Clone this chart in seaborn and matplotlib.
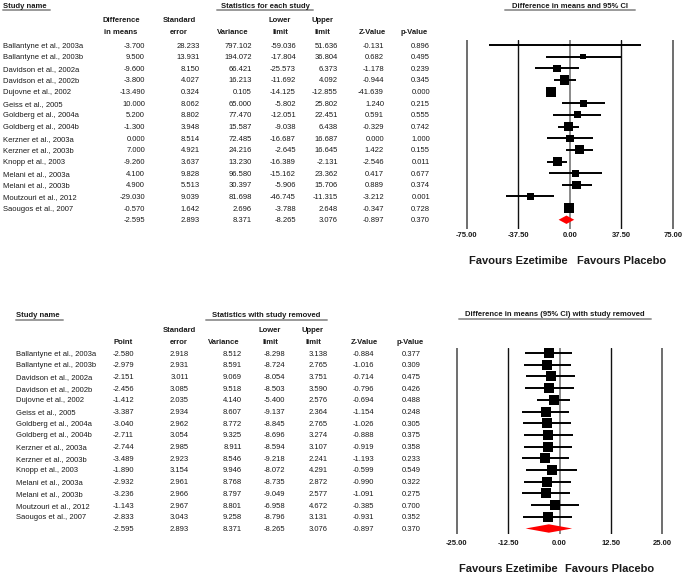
import numpy as np
import pandas as pd
import matplotlib
matplotlib.use("Agg")
import matplotlib.pyplot as plt
from matplotlib.lines import Line2D
import seaborn as sns

# ---------------- data ----------------
studies = ["Ballantyne et al., 2003a", "Ballantyne et al., 2003b", "Davidson et al., 2002a",
           "Davidson et al., 2002b", "Dujovne et al., 2002", "Geiss et al., 2005",
           "Goldberg et al., 2004a", "Goldberg et al., 2004b", "Kerzner et al., 2003a",
           "Kerzner et al., 2003b", "Knopp et al., 2003", "Melani et al., 2003a",
           "Melani et al., 2003b", "Moutzouri et al., 2012", "Saougos et al., 2007"]

diff = [-3.700, 9.500, -9.600, -3.800, -13.490, 10.000, 5.200, -1.300, 0.000, 7.000,
        -9.260, 4.100, 4.900, -29.030, -0.570]
se = [28.233, 13.931, 8.150, 4.027, 0.324, 8.062, 8.802, 3.948, 8.514, 4.921,
      3.637, 9.828, 5.513, 9.039, 1.642]
var = [797.102, 194.072, 66.421, 16.213, 0.105, 65.000, 77.470, 15.587, 72.485, 24.216,
       13.230, 96.580, 30.397, 81.698, 2.696]
lower = [-59.036, -17.804, -25.573, -11.692, -14.125, -5.802, -12.051, -9.038, -16.687, -2.645,
         -16.389, -15.162, -5.906, -46.745, -3.788]
upper = [51.636, 36.804, 6.373, 4.092, -12.855, 25.802, 22.451, 6.438, 16.687, 16.645,
         -2.131, 23.362, 15.706, -11.315, 2.648]
zval = [-0.131, 0.682, -1.178, -0.944, -41.639, 1.240, 0.591, -0.329, 0.000, 1.422,
        -2.546, 0.417, 0.889, -3.212, -0.347]
pval = [0.896, 0.495, 0.239, 0.345, 0.000, 0.215, 0.555, 0.742, 1.000, 0.155,
        0.011, 0.677, 0.374, 0.001, 0.728]
# pooled: point, se, variance, lower, upper, z, p
summary = [-2.595, 2.893, 8.371, -8.265, 3.076, -0.897, 0.370]

point_r = [-2.580, -2.979, -2.151, -2.456, -1.412, -3.387, -3.040, -2.711, -2.744, -3.489,
           -1.890, -2.932, -3.236, -1.143, -2.833]
se_r = [2.918, 2.931, 3.011, 3.085, 2.035, 2.934, 2.962, 3.054, 2.985, 2.923,
        3.154, 2.961, 2.966, 2.967, 3.043]
var_r = [8.512, 8.591, 9.069, 9.518, 4.140, 8.607, 8.772, 9.325, 8.911, 8.546,
         9.946, 8.768, 8.797, 8.801, 9.258]
lower_r = [-8.298, -8.724, -8.054, -8.503, -5.400, -9.137, -8.845, -8.696, -8.594, -9.218,
           -8.072, -8.735, -9.049, -6.958, -8.796]
upper_r = [3.138, 2.765, 3.751, 3.590, 2.576, 2.364, 2.765, 3.274, 3.107, 2.241,
           4.291, 2.872, 2.577, 4.672, 3.131]
z_r = [-0.884, -1.016, -0.714, -0.796, -0.694, -1.154, -1.026, -0.888, -0.919, -1.193,
       -0.599, -0.990, -1.091, -0.385, -0.931]
p_r = [0.377, 0.309, 0.475, 0.426, 0.488, 0.248, 0.305, 0.375, 0.358, 0.233,
       0.549, 0.322, 0.275, 0.700, 0.352]

ticks_top = [-75, -37.5, 0, 37.5, 75]
ticks_bot = [-25, -12.5, 0, 12.5, 25]

# ---------------- style ----------------
sns.set_style("white")
plt.rcParams["font.family"] = ["Liberation Sans", "DejaVu Sans"]

W, H = 685, 575
fig = plt.figure(figsize=(W / 100, H / 100), dpi=100)

def fx(x):
    return x / W

def fy(y):
    return 1 - y / H

TXT = "#1a1a1a"
FS = 5.5

def txt(x, y, s, ha="left", bold=False, size=FS, color=TXT):
    fig.text(fx(x), fy(y), s, ha=ha, va="center_baseline", fontsize=size,
             fontweight="bold" if bold else "normal", color=color)

def underline(x0, x1, y):
    fig.add_artist(Line2D([fx(x0), fx(x1)], [fy(y), fy(y)], color="#9a9a9a", lw=1.4,
                          transform=fig.transFigure))

def table(y_title, y_h1, y_h2, y_row0, dy, name_x, title, headers, right_edges, cols, summ,
          title_span, name_ul):
    txt(name_x, y_title, "Study name", bold=True)
    underline(name_ul[0], name_ul[1], y_title + 5)
    txt((title_span[0] + title_span[1]) / 2, y_title, title, ha="center", bold=True)
    underline(title_span[0], title_span[1], y_title + 5)
    for (h1, h2, cx) in headers:
        if h1:
            txt(cx, y_h1, h1, ha="center", bold=True)
        txt(cx, y_h2, h2, ha="center", bold=True)
    for i, name in enumerate(studies):
        y = y_row0 + i * dy
        txt(name_x, y, name)
        for xr, col in zip(right_edges, cols):
            txt(xr, y, f"{col[i]:.3f}", ha="right")
    y = y_row0 + len(studies) * dy
    for xr, v in zip(right_edges, summ):
        txt(xr, y, f"{v:.3f}", ha="right")

# ---------------- top table ----------------
dy_top = 11.65
table(5, 20, 31, 45, dy_top, 3, "Statistics for each study",
      [("Difference", "in means", 121), ("Standard", "error", 179), (None, "Variance", 233),
       ("Lower", "limit", 280), ("Upper", "limit", 322), (None, "Z-Value", 372),
       (None, "p-Value", 414)],
      [145, 200, 252, 296, 338, 384, 430],
      [diff, se, var, lower, upper, zval, pval], summary,
      (217, 313), (3, 50))

# ---------------- bottom table ----------------
dy_bot = 11.7
table(315, 330, 341, 353, dy_bot, 16, "Statistics with study removed",
      [(None, "Point", 123), ("Standard", "error", 179), (None, "Variance", 224),
       ("Lower", "limit", 270), ("Upper", "limit", 313), (None, "Z-Value", 364),
       (None, "p-Value", 410)],
      [134, 189, 242, 285, 328, 374, 421],
      [point_r, se_r, var_r, lower_r, upper_r, z_r, p_r], summary,
      (206, 327), (16, 63))

# ---------------- forest helpers ----------------
def make_axes(x_lo_px, x_hi_px, t_lo, t_hi, y_top_px, y_bot_px, row0_px, dy, pad_units):
    ppu = (x_hi_px - x_lo_px) / (t_hi - t_lo)
    left = x_lo_px - pad_units * ppu
    width = (t_hi - t_lo + 2 * pad_units) * ppu
    ax = fig.add_axes([fx(left), fy(y_bot_px), width / W, (y_bot_px - y_top_px) / H])
    return ax

def decorate(ax, ticks, pad):
    for t in ticks:
        if t == 0:
            ax.axvline(t, color="#8a8a8a", lw=1.4, zorder=1)
        elif abs(t) == max(ticks):
            ax.axvline(t, color="#555555", lw=1.2, zorder=1)
        else:
            ax.axvline(t, color="#111111", lw=1.0, zorder=1)
    ax.set_xticks(ticks)
    ax.set_xticklabels([f"{t:.2f}" for t in ticks], fontsize=FS, fontweight="bold", color=TXT)
    ax.tick_params(axis="x", length=0, pad=pad)
    ax.set_yticks([])
    ax.set_xlabel("")
    ax.set_ylabel("")
    for s in ax.spines.values():
        s.set_visible(False)
    ax.patch.set_alpha(0)

def diamond(ax, est, lo, hi, row, h):
    ax.fill([lo, est, hi, est], [row, row - h, row, row + h], color="#ff0000", lw=0, zorder=4)

rows = np.arange(len(studies))

# ---------------- top forest ----------------
ax1 = make_axes(467, 673, -75, 75, 40, 229, 45, dy_top, 3)
ax1.hlines(rows, lower, upper, color="black", lw=1.4, zorder=2)

# random-effects weights from the study variances and the pooled variance
v = np.array(var)
t_lo, t_hi = 0.0, 5000.0
for _ in range(80):
    mid = (t_lo + t_hi) / 2
    if np.sum(1 / (v + mid)) > 1 / summary[2]:
        t_lo = mid
    else:
        t_hi = mid
w = 1 / (v + t_lo)
smax = (10 / 1.389) ** 2
df_top = pd.DataFrame({"est": diff, "row": rows, "w": w})
sns.scatterplot(data=df_top, x="est", y="row", size="w",
                sizes=(smax * w.min() / w.max(), smax), marker="s", color="black",
                linewidth=0, legend=False, ax=ax1, zorder=3)
diamond(ax1, summary[0], summary[3], summary[4], len(studies), 0.36)
ax1.set_xlim(-78, 78)
ax1.set_ylim((229 - 45) / dy_top, (40 - 45) / dy_top)
decorate(ax1, ticks_top, 2.0)

txt(570, 5, "Difference in means and 95% CI", ha="center", bold=True)
underline(505, 635, 10)
txt(568, 260, "Favours Ezetimibe", ha="right", bold=True, size=8)
txt(577, 260, "Favours Placebo", ha="left", bold=True, size=8)

# ---------------- bottom forest ----------------
ax2 = make_axes(457, 662, -25, 25, 348, 534, 353, dy_bot, 1)
ax2.hlines(rows, lower_r, upper_r, color="black", lw=1.4, zorder=2)
df_bot = pd.DataFrame({"est": point_r, "row": rows})
sns.scatterplot(data=df_bot, x="est", y="row", s=(9.5 / 1.389) ** 2, marker="s",
                color="black", linewidth=0, legend=False, ax=ax2, zorder=3)
diamond(ax2, summary[0], summary[3], summary[4], len(studies), 0.36)
ax2.set_xlim(-26, 26)
ax2.set_ylim((534 - 353) / dy_bot, (348 - 353) / dy_bot)
decorate(ax2, ticks_bot, 4.5)

txt(555, 314, "Difference in means (95% CI) with study removed", ha="center", bold=True)
underline(459, 651, 319)
txt(558, 568, "Favours Ezetimibe", ha="right", bold=True, size=8)
txt(565, 568, "Favours Placebo", ha="left", bold=True, size=8)

fig.savefig("out.png", dpi=100, facecolor="white")
